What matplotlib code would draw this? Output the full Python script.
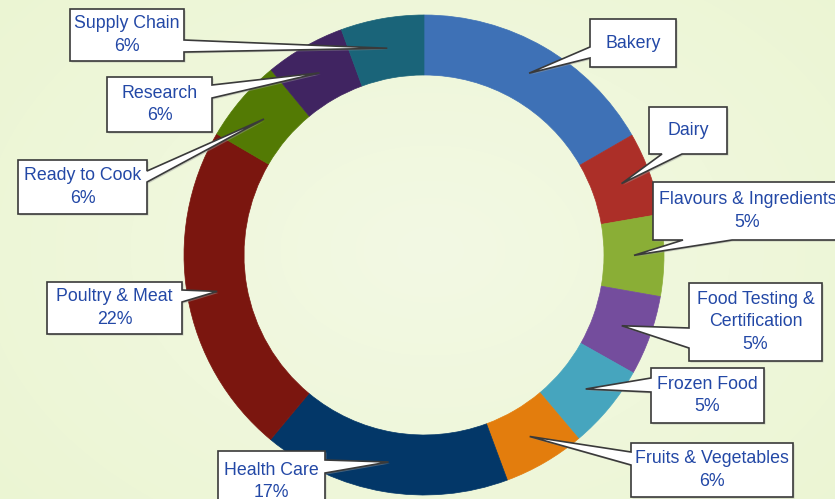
import numpy as np
import matplotlib
matplotlib.use("Agg")
import matplotlib.pyplot as plt
from matplotlib.patches import Polygon

# segment shares, clockwise from the top
categories = ["Bakery", "Dairy", "Flavours & Ingredients", "Food Testing &\nCertification",
              "Frozen Food", "Fruits & Vegetables", "Health Care", "Poultry & Meat",
              "Ready to Cook", "Research", "Supply Chain"]
shares = [16.7, 5.6, 5.5, 5.4, 5.7, 5.5, 16.7, 22.4, 5.6, 5.4, 5.6]
pct_text = ["", "", "5%", "5%", "5%", "6%", "17%", "22%", "6%", "6%", "6%"]
colors = ["#3E71B6", "#AC2F28", "#8AAE36", "#744D9D", "#46A5BE", "#E37D0D",
          "#033768", "#7B160F", "#537A04", "#402461", "#1A6479"]

W, H = 835, 499

# callout layout in pixel coords (y down): box, side the pointer leaves from, pointer base
callouts = [
    ((590, 19, 676, 67), "l", (47, 58)),
    ((649, 107, 727, 154), "b", (662, 682)),
    ((653, 182, 842, 240), "b", (683, 732)),
    ((689, 283, 822, 361), "l", (328, 348)),
    ((651, 368, 764, 423), "l", (378, 392)),
    ((631, 443, 793, 497), "l", (452, 465)),
    ((218, 451, 325, 512), "r", (460, 473)),
    ((47, 282, 182, 334), "r", (290, 302)),
    ((18, 160, 147, 214), "r", (171, 182)),
    ((107, 77, 212, 132), "r", (85, 98)),
    ((70, 9, 184, 61), "r", (40, 52)),
]

fig = plt.figure(figsize=(W / 100, H / 100), dpi=100)
ax = fig.add_axes([0, 0, 1, 1])

# soft background
yy, xx = np.mgrid[0:H, 0:W]
d = np.sqrt(((xx - 430) / 600) ** 2 + ((yy - 250) / 420) ** 2)
bg0 = np.array([243, 249, 228]) / 255
bg1 = np.array([235, 245, 210]) / 255
t = np.clip(d, 0, 1)[..., None]
ax.imshow(bg0 * (1 - t) + bg1 * t, extent=[0, W, 0, H], zorder=0)

cx, cy, R = 424, H - 255, 240
wedges, _ = ax.pie(shares, colors=colors, startangle=90, counterclock=False,
                   center=(cx, cy), radius=R, frame=True,
                   wedgeprops=dict(width=60, linewidth=0.5))
for w, c in zip(wedges, colors):
    w.set_edgecolor(c)
ax.set_xlim(0, W)
ax.set_ylim(0, H)
ax.set_aspect("equal")
ax.axis("off")

def fy(y):
    return H - y

for w, name, pct, (box, side, base) in zip(wedges, categories, pct_text, callouts):
    mid = np.deg2rad((w.theta1 + w.theta2) / 2)
    tip = (cx + 210 * np.cos(mid), H - (cy + 210 * np.sin(mid)))
    x0, y0, x1, y1 = box
    a, b = base
    TL, TR, BR, BL = (x0, y0), (x1, y0), (x1, y1), (x0, y1)
    if side == "r":
        pts = [TL, TR, (x1, a), tip, (x1, b), BR, BL]
    elif side == "l":
        pts = [TL, TR, BR, BL, (x0, b), tip, (x0, a)]
    elif side == "b":
        pts = [TL, TR, BR, (b, y1), tip, (a, y1), BL]
    else:
        pts = [TL, (a, y0), tip, (b, y0), TR, BR, BL]
    shadow = [(x + 1.5, fy(y) - 1.5) for x, y in pts]
    ax.add_patch(Polygon(shadow, closed=True, facecolor="#9a9a9a", edgecolor="none",
                         alpha=0.45, zorder=3))
    ax.add_patch(Polygon([(x, fy(y)) for x, y in pts], closed=True, facecolor="white",
                         edgecolor="#3a3a3a", linewidth=1.2, zorder=4))
    label = name if not pct else name + "\n" + pct
    ax.text((x0 + x1) / 2, fy((y0 + y1) / 2), label, ha="center", va="center",
            fontsize=12.8, family="Liberation Sans", color="#2348A6",
            linespacing=1.4, zorder=5)

fig.savefig("out.png", dpi=100)
